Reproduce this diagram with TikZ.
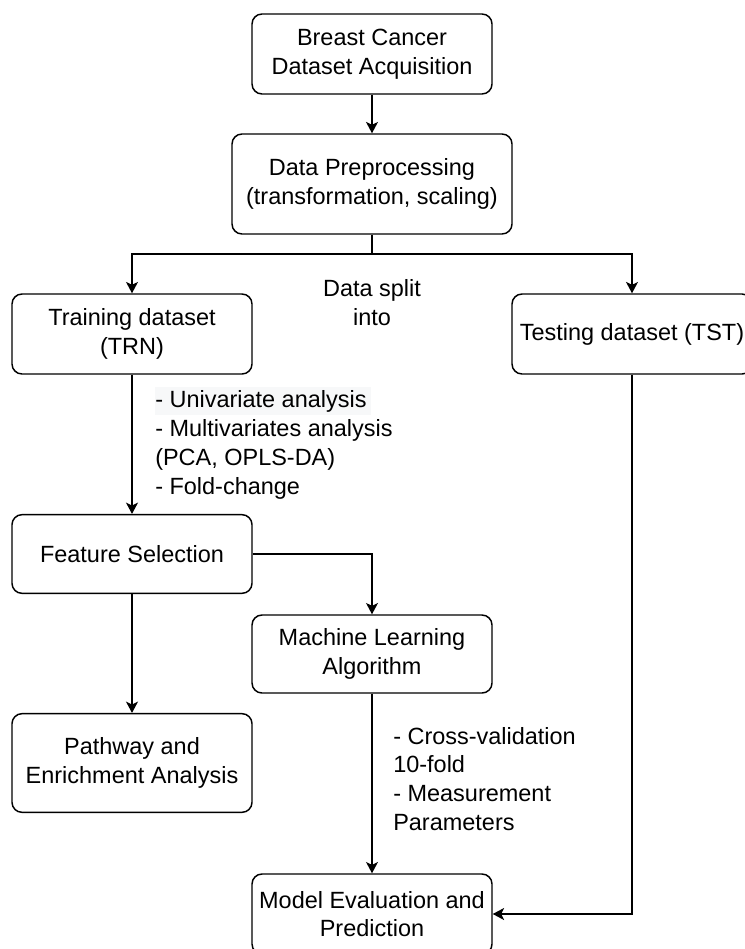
\documentclass[tikz,border=0pt]{standalone}
\usepackage{fontspec}
\setmainfont{Liberation Sans}
\usetikzlibrary{arrows.meta}
\newcommand\dfont{\fontsize{17.6pt}{21.6pt}\selectfont}
\definecolor{hlgray}{RGB}{247,248,249}
\begin{document}
\begin{tikzpicture}[x=0.75pt,y=-0.75pt,
  box/.style={draw, line width=1.1pt, rounded corners=7.5pt, align=center, inner sep=0pt,
              font=\dfont, minimum width=180pt, minimum height=60pt},
  lbl/.style={align=left, inner sep=0pt, font=\dfont},
  arr/.style={line width=1.1pt, -{Stealth[length=8.5pt,width=9pt,inset=2.2pt]}},
  ln/.style={line width=1.1pt}]
\useasboundingbox (0,0) rectangle (745,949);
\clip (0,0) rectangle (745,949);
% boxes
\node[box] (acq) at (372,54) {Breast Cancer\\Dataset Acquisition};
\node[box, minimum width=210pt, minimum height=75pt] (prep) at (372,184) {Data Preprocessing\\(transformation, scaling)};
\node[box] (trn) at (132,334) {Training dataset\\(TRN)};
\node[box] (tst) at (632,334) {Testing dataset (TST)};
\node[box, minimum height=59pt] (fs) at (132,554) {Feature Selection};
\node[box, minimum height=58.5pt] (ml) at (372,654) {Machine Learning\\Algorithm};
\node[box, minimum height=74pt] (pw) at (132,763) {Pathway and\\Enrichment Analysis};
\node[box] (me) at (372,914) {Model Evaluation and\\Prediction};
% labels
\node[lbl, align=center] (split) at (372,303) {Data split\\into};
\fill[hlgray] (155,387) rectangle (371,415);
\node[lbl, anchor=west] (fsl) at (155,445) {- Univariate analysis\\- Multivariates analysis\\(PCA, OPLS-DA)\\- Fold-change};
\node[lbl, anchor=west] (mll) at (393,779) {- Cross-validation\\10-fold\\- Measurement\\Parameters};
% connectors
\coordinate (sp) at (372,254);
\draw[arr] (acq) -- (prep);
\draw[ln] (prep) -- (sp);
\draw[arr] (sp) -| (trn.north);
\draw[arr] (sp) -| (tst.north);
\draw[arr] (trn) -- (fs);
\draw[arr] (fs.east) -| (ml.north);
\draw[arr] (fs) -- (pw);
\draw[arr] (ml) -- (me);
\draw[arr] (tst.south) |- (me.east);
\end{tikzpicture}
\end{document}
